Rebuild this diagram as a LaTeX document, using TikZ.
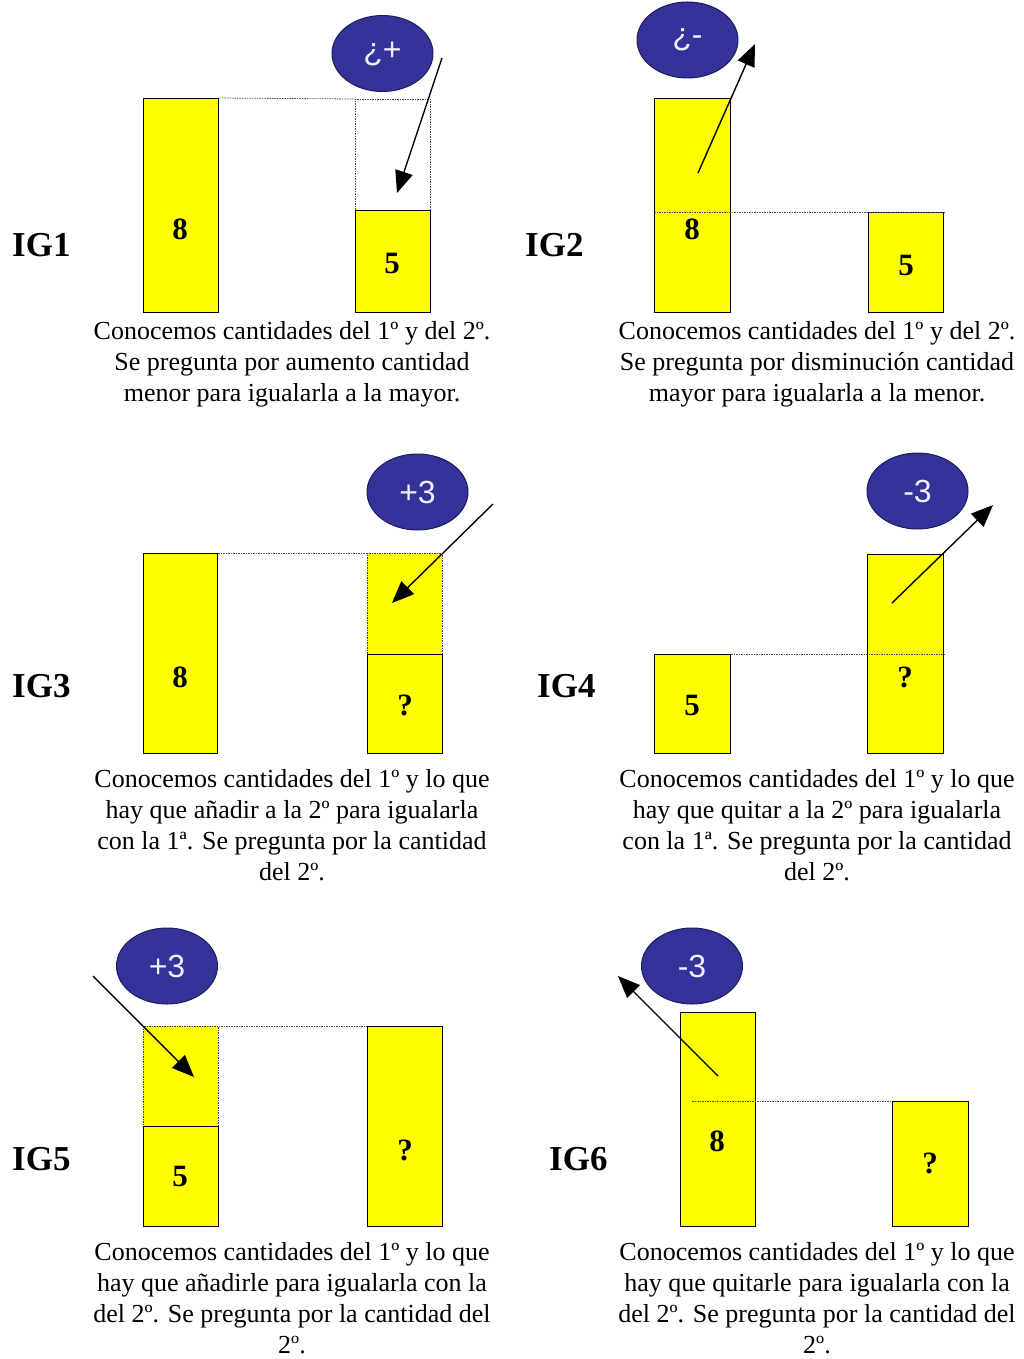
\documentclass[tikz,border=0pt]{standalone}
\usepackage{fontspec}
\setmainfont{Liberation Serif}
\newfontfamily\ovalfont{Liberation Sans}
\usetikzlibrary{shapes.geometric,arrows.meta}

\definecolor{barYellow}{HTML}{FFFF00}
\definecolor{ovalBlue}{HTML}{333399}
\definecolor{ovalEdge}{HTML}{1C1C5E}
\definecolor{ovalText}{HTML}{EEEEFF}

\begin{document}
\begin{tikzpicture}[x=1pt,y=-1pt,
 bar/.style={draw=black, line width=1.4pt, fill=barYellow, anchor=north west, inner sep=0pt},
 ghost/.style={draw=black!75, dash pattern=on 1.5pt off 1pt, line width=0.8pt, anchor=north west, inner sep=0pt},
 num/.style={font=\fontsize{31}{31}\selectfont\bfseries, inner sep=0pt},
 lbl/.style={font=\fontsize{35}{35}\selectfont\bfseries, anchor=base west, inner sep=0pt},
 oval/.style={ellipse, draw=ovalEdge, line width=1pt, fill=ovalBlue, text=ovalText, font=\ovalfont\fontsize{32}{32}\selectfont, minimum width=101pt, minimum height=76pt, inner sep=0pt},
 desc/.style={align=center, font=\fontsize{26}{31}\selectfont, anchor=base, inner sep=0pt},
 guide/.style={draw=black!70, dash pattern=on 1.5pt off 1pt, line width=0.8pt},
 push/.style={draw=black, line width=1.4pt, -{Triangle[length=22pt,width=18pt]}}
]
\useasboundingbox (0,0) rectangle (1023,1359);

% ---------------- IG1 ----------------
\node[lbl] (l1) at (12,256) {IG1};
\node[ghost, minimum width=75pt, minimum height=111pt] (ag) at (355,99) {};
\node[bar, minimum width=75pt, minimum height=214pt] (a8) at (143,98) {};
\node[bar, minimum width=75pt, minimum height=102pt] (a5) at (355,210) {};
\node[num] (n1a) at (180,229) {8};
\node[num] (n1b) at (392,264) {5};
\draw[guide] (a8.north east) -- (ag.north west);
\node[oval] (ovA) at (382.5,53.5) {¿+};
\coordinate (s1) at (442,58);
\coordinate (e1) at (397,193);
\draw[push] (s1) -- (e1);
\node[desc] (t1) at (292,401) {Conocemos cantidades del 1º y del 2º.\\Se pregunta por aumento cantidad\\menor para igualarla a la mayor.};

% ---------------- IG2 ----------------
\node[lbl] (l2) at (525,256) {IG2};
\node[bar, minimum width=76pt, minimum height=214pt] (b8) at (654,98) {};
\node[bar, minimum width=75pt, minimum height=100pt] (b5) at (868,212) {};
\node[num] (n2a) at (692,229) {8};
\node[num] (n2b) at (906,266) {5};
\draw[guide] (b8.west |- b5.north) -- (b5.north east);
\node[oval] (ovB) at (687.5,40) {¿-};
\coordinate (s2) at (698,173);
\coordinate (e2) at (755,44);
\draw[push] (s2) -- (e2);
\node[desc] (t2) at (817,401) {Conocemos cantidades del 1º y del 2º.\\Se pregunta por disminución cantidad\\mayor para igualarla a la menor.};

% ---------------- IG3 ----------------
\node[lbl] (l3) at (12,697) {IG3};
\node[bar, minimum width=74pt, minimum height=200pt] (c8) at (143,553) {};
\node[ghost, fill=barYellow, minimum width=75pt, minimum height=101pt] (cg) at (367,553) {};
\node[bar, minimum width=75pt, minimum height=99pt] (cq) at (367,654) {};
\node[num] (n3a) at (180,677) {8};
\node[num] (n3b) at (405,705) {?};
\draw[guide] (c8.north east) -- (cg.north west);
\node[oval] (ovC) at (417.5,492) {+3};
\coordinate (s3) at (493,504);
\coordinate (e3) at (392,603);
\draw[push] (s3) -- (e3);
\node[desc] (t3) at (292,880) {Conocemos cantidades del 1º y lo que\\hay que añadir a la 2º para igualarla\\con la 1ª. Se pregunta por la cantidad\\del 2º.};

% ---------------- IG4 ----------------
\node[lbl] (l4) at (537,697) {IG4};
\node[bar, minimum width=76pt, minimum height=99pt] (d5) at (654,654) {};
\node[bar, minimum width=76pt, minimum height=199pt] (dq) at (867,554) {};
\node[num] (n4a) at (692,705) {5};
\node[num] (n4b) at (905,677) {?};
\draw[guide] (d5.north east) -- (dq.east |- d5.north);
\node[oval] (ovD) at (917.5,491) {-3};
\coordinate (s4) at (892,603);
\coordinate (e4) at (993,505);
\draw[push] (s4) -- (e4);
\node[desc] (t4) at (817,880) {Conocemos cantidades del 1º y lo que\\hay que quitar a la 2º para igualarla\\con la 1ª. Se pregunta por la cantidad\\del 2º.};

% ---------------- IG5 ----------------
\node[lbl] (l5) at (12,1170) {IG5};
\node[ghost, fill=barYellow, minimum width=75pt, minimum height=100pt] (eg) at (143,1026) {};
\node[bar, minimum width=75pt, minimum height=100pt] (e5) at (143,1126) {};
\node[bar, minimum width=75pt, minimum height=200pt] (eq) at (367,1026) {};
\node[num] (n5a) at (180,1176) {5};
\node[num] (n5b) at (405,1150) {?};
\draw[guide] (eg.north east) -- (eq.north west);
\node[oval] (ovE) at (167,966) {+3};
\coordinate (s5) at (93,976);
\coordinate (e5e) at (194,1077);
\draw[push] (s5) -- (e5e);
\node[desc] (t5) at (292,1353) {Conocemos cantidades del 1º y lo que\\hay que añadirle para igualarla con la\\del 2º. Se pregunta por la cantidad del\\2º.};

% ---------------- IG6 ----------------
\node[lbl] (l6) at (549,1170) {IG6};
\node[bar, minimum width=75pt, minimum height=214pt] (f8) at (680,1012) {};
\node[bar, minimum width=76pt, minimum height=125pt] (fq) at (892,1101) {};
\node[num] (n6a) at (717,1141) {8};
\node[num] (n6b) at (930,1163) {?};
\draw[guide] ([xshift=12pt]f8.west |- fq.north) -- (fq.north west);
\node[oval] (ovF) at (692,966) {-3};
\coordinate (s6) at (718,1076);
\coordinate (e6) at (618,976);
\draw[push] (s6) -- (e6);
\node[desc] (t6) at (817,1353) {Conocemos cantidades del 1º y lo que\\hay que quitarle para igualarla con la\\del 2º. Se pregunta por la cantidad del\\2º.};
\end{tikzpicture}
\end{document}
